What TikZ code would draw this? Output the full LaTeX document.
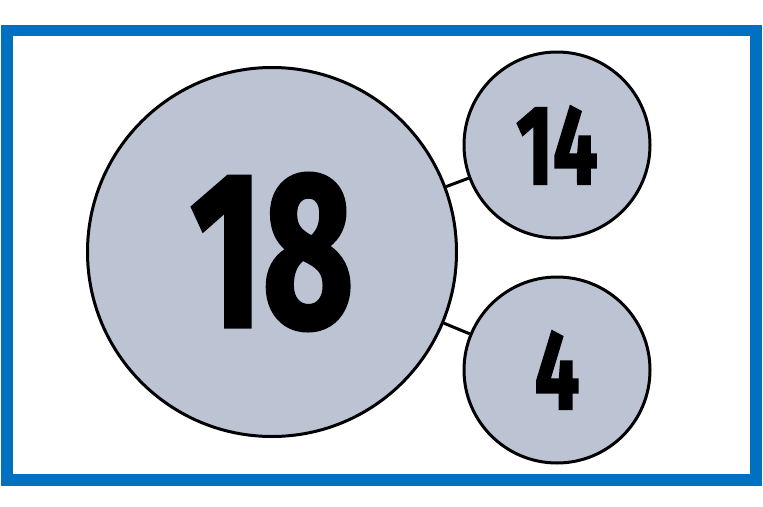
\documentclass[tikz,border=0pt]{standalone}
\usepackage{fontspec}
\setmainfont{Fira Sans}
\newfontfamily\ballfont{Fira Sans Bold}[FakeStretch=0.7, FakeBold=1.5]
\definecolor{ballgrey}{RGB}{188,196,212}
\definecolor{frameblue}{RGB}{0,112,192}

\begin{document}
\begin{tikzpicture}[x=1pt, y=-1pt,
		ball/.style={circle, draw=black, line width=3pt, fill=ballgrey, inner sep=0pt},
		bigball/.style={ball, minimum size=369pt, font=\fontsize{223}{223}\ballfont},
		smallball/.style={ball, minimum size=186pt, font=\fontsize{113}{113}\ballfont},
		link/.style={line width=3pt}]
			\useasboundingbox (0,0) rectangle (763,506);
			\draw[line width=11.5pt, draw=frameblue] (6.8,30.5) rectangle (756.2,480);
			
			\node[bigball] (whole) at (272,252) {18};
			\node[smallball] (parttop) at (557,145) {14};
			\node[smallball] (partbottom) at (557,370) {4};
			
			\draw[link] (whole) -- (parttop);
			\draw[link] (whole) -- (partbottom);
		\end{tikzpicture}
\end{document}
